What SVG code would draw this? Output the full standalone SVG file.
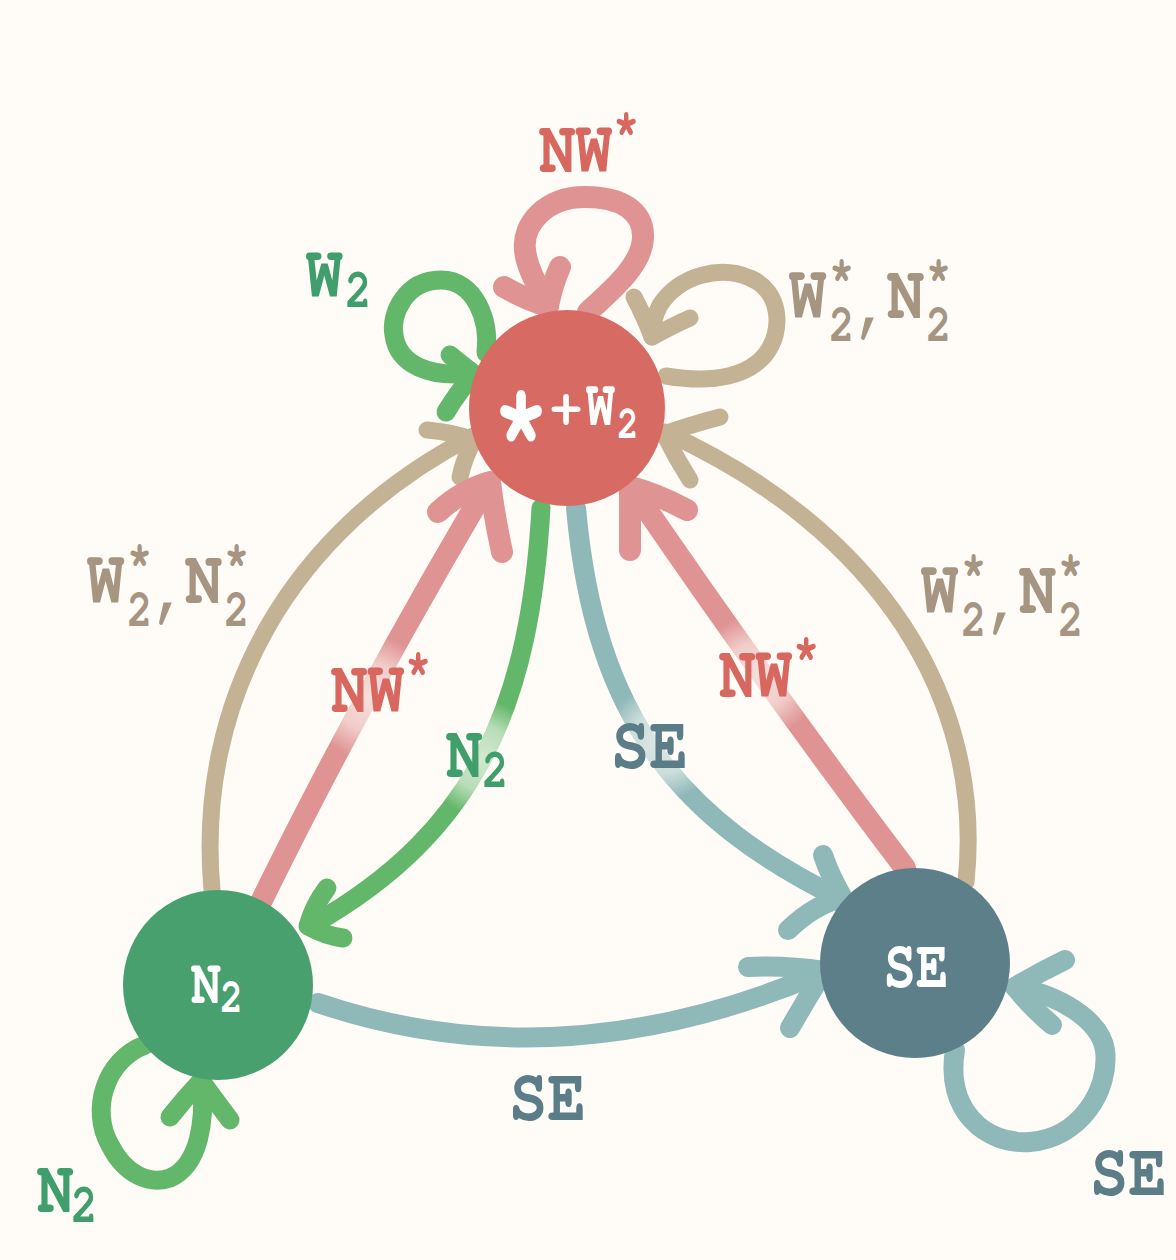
<svg xmlns="http://www.w3.org/2000/svg" width="1176" height="1260" viewBox="0 0 1176 1260">
<style>
.e{fill:none;stroke-linecap:round;stroke-linejoin:round}
.pk{stroke:#df9393;stroke-width:22}
.tn{stroke:#c4b295;stroke-width:17}
.gr{stroke:#62b76a;stroke-width:19}
.tl{stroke:#8fb8b8;stroke-width:20}
.t{font-family:FreeMono,"Liberation Mono",monospace;font-weight:700}
.cr{fill:#d7675f}.cg{fill:#3f9e6b}.ct{fill:#a69581}.cs{fill:#5b7d87}.cw{fill:#ffffff}
</style>
<defs>
<radialGradient id="fade">
<stop offset="0" stop-color="#fffcf7" stop-opacity="0.72"/>
<stop offset="0.55" stop-color="#fffcf7" stop-opacity="0.55"/>
<stop offset="1" stop-color="#fffcf7" stop-opacity="0"/>
</radialGradient>
</defs>
<rect width="1176" height="1260" fill="#fffcf7"/>
<g id="connectors">
<path class="e pk" d="M 588 312 C 612 290, 642 265, 643 238 C 644 210, 620 197, 585 197 C 545 197, 522 225, 525 250 C 527 270, 540 290, 548 305"/>
<path class="e pk" d="M 504 287 Q 527 300 548 306 Q 552 285 560 267"/>
<path class="e gr" d="M 486 353 C 490 320, 475 280, 441 280 C 405 280, 390 315, 394 335 C 398 365, 430 378, 472 373"/>
<path class="e gr" d="M 450 355 Q 462 365 474 374 Q 458 392 446 412"/>
<path class="e tn" d="M 666 376 C 690 380, 740 385, 765 355 C 785 330, 780 290, 750 278 C 720 265, 680 275, 660 305 C 653 318, 652 328, 652 337"/>
<path class="e tn" d="M 634 297 Q 645 318 652 337 Q 672 326 690 318"/>
<path class="e tn" d="M 212 890 C 195 700, 290 530, 473 436"/>
<path class="e tn" d="M 427 430 Q 452 432 474 440 Q 464 458 460 477"/>
<path class="e tn" d="M 966 882 C 985 700, 880 530, 665 432"/>
<path class="e tn" d="M 720 417 Q 690 425 664 434 Q 676 458 690 480"/>
<path class="e pk" d="M 262 900 Q 360 700 488 484"/>
<path class="e pk" d="M 438 512 Q 462 490 490 482 Q 494 515 502 552"/>
<path class="e pk" d="M 905 868 Q 770 690 632 488"/>
<path class="e pk" d="M 687 510 Q 655 493 630 487 Q 630 520 630 550"/>
<path class="e gr" d="M 541 508 C 530 700, 480 830, 312 925"/>
<path class="e gr" d="M 327 888 Q 314 905 308 926 Q 326 936 343 938"/>
<path class="e tl" d="M 576 508 C 595 720, 680 820, 843 900"/>
<path class="e tl" d="M 823 855 Q 830 876 843 898 Q 815 904 788 930"/>
<path class="e tl" d="M 318 1003 Q 560 1085, 823 972"/>
<path class="e tl" d="M 748 967 Q 786 965 824 971 Q 806 1000 790 1028"/>
<path class="e tl" d="M 955 1050 C 945 1110, 985 1145, 1030 1142 C 1080 1138, 1110 1090, 1105 1050 C 1100 1020, 1060 995, 1015 987"/>
<path class="e tl" d="M 1065 960 Q 1040 972 1015 987 Q 1032 1008 1052 1025"/>
<path class="e gr" d="M 145 1045 C 105 1060, 90 1110, 110 1145 C 125 1175, 150 1185, 170 1178 C 200 1165, 205 1120, 202 1082"/>
<path class="e gr" d="M 170 1117 Q 185 1098 201 1081 Q 215 1100 230 1120"/>
<circle cx="370" cy="697" r="62" fill="url(#fade)"/>
<circle cx="482" cy="758" r="58" fill="url(#fade)"/>
<circle cx="757" cy="677" r="62" fill="url(#fade)"/>
<circle cx="663" cy="742" r="58" fill="url(#fade)"/>
</g>
<g id="node-top">
<circle cx="567" cy="408" r="98" fill="#d76b63"/>
<text class="t cw" transform="translate(521,468) scale(1,1.3)" font-size="96" text-anchor="middle">*</text>
<text class="t cw" x="566" y="425" font-size="56" text-anchor="middle">+</text>
<text class="t cw" transform="translate(586,425) scale(1,1.4)" font-size="48">W</text>
<text class="t cw" transform="translate(617,438) scale(1,1.3)" font-size="36">2</text>
</g>
<g id="node-n2">
<circle cx="218" cy="985" r="95" fill="#48a06e"/>
<text class="t cw" transform="translate(191,1003) scale(1,1.3)" font-size="50">N<tspan x="29" y="7" font-size="38">2</tspan></text>
</g>
<g id="node-se">
<circle cx="915" cy="963" r="95" fill="#5d7f89"/>
<text class="t cw" transform="translate(916,987) scale(1,1.25)" font-size="54" text-anchor="middle">SE</text>
</g>
<g id="labels">
<text class="t cr" transform="translate(539,172) scale(1,1.25)" font-size="61">NW<tspan x="74" y="-20" font-size="44">*</tspan></text>
<text class="t cg" transform="translate(306,297) scale(1,1.25)" font-size="61">W<tspan x="39" y="8" font-size="44">2</tspan></text>
<text class="t ct" transform="translate(789,318) scale(1,1.25)" font-size="62">W<tspan x="40" y="-21" font-size="42">*</tspan><tspan x="40" y="18" font-size="42">2</tspan><tspan x="63" y="8">,</tspan><tspan x="98" y="0">N</tspan><tspan x="137" y="-21" font-size="42">*</tspan><tspan x="137" y="18" font-size="42">2</tspan></text>
<text class="t ct" transform="translate(87,603) scale(1,1.25)" font-size="62">W<tspan x="40" y="-21" font-size="42">*</tspan><tspan x="40" y="18" font-size="42">2</tspan><tspan x="63" y="8">,</tspan><tspan x="98" y="0">N</tspan><tspan x="137" y="-21" font-size="42">*</tspan><tspan x="137" y="18" font-size="42">2</tspan></text>
<text class="t ct" transform="translate(921,613) scale(1,1.25)" font-size="62">W<tspan x="40" y="-21" font-size="42">*</tspan><tspan x="40" y="18" font-size="42">2</tspan><tspan x="63" y="8">,</tspan><tspan x="98" y="0">N</tspan><tspan x="137" y="-21" font-size="42">*</tspan><tspan x="137" y="18" font-size="42">2</tspan></text>
<text class="t cr" transform="translate(331,712) scale(1,1.25)" font-size="61">NW<tspan x="74" y="-20" font-size="44">*</tspan></text>
<text class="t cr" transform="translate(719,697) scale(1,1.25)" font-size="61">NW<tspan x="74" y="-20" font-size="44">*</tspan></text>
<text class="t cg" transform="translate(446,777) scale(1,1.25)" font-size="61">N<tspan x="36" y="8" font-size="44">2</tspan></text>
<text class="t cs" transform="translate(611,768) scale(1,1.18)" font-size="64">SE</text>
<text class="t cs" transform="translate(509,1120) scale(1,1.18)" font-size="64">SE</text>
<text class="t cs" transform="translate(1090,1195) scale(1,1.18)" font-size="64">SE</text>
<text class="t cg" transform="translate(37,1212) scale(1,1.25)" font-size="61">N<tspan x="34" y="8" font-size="44">2</tspan></text>
</g>
</svg>
